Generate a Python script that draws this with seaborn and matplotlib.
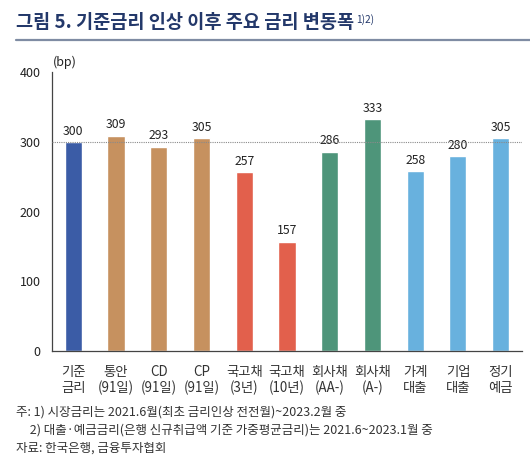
import numpy as np
import pandas as pd
import seaborn as sns
import matplotlib.pyplot as plt

# data
categories = ["기준\n금리", "통안\n(91일)", "CD\n(91일)", "CP\n(91일)", "국고채\n(3년)", "국고채\n(10년)",
              "회사채\n(AA-)", "회사채\n(A-)", "가계\n대출", "기업\n대출", "정기\n예금"]
changes = [300, 309, 293, 305, 257, 157, 286, 333, 258, 280, 305]
bar_colors = ["#3b5ca6", "#c6915f", "#c6915f", "#c6915f", "#e2604c", "#e2604c",
              "#4e957a", "#4e957a", "#68b1de", "#68b1de", "#68b1de"]
y_ticks = [0, 100, 200, 300, 400]

title = "그림 5. 기준금리 인상 이후 주요 금리 변동폭"
notes = [
    "주: 1) 시장금리는 2021.6월(최초 금리인상 전전월)~2023.2월 중",
    "     2) 대출·예금금리(은행 신규취급액 기준 가중평균금리)는 2021.6~2023.1월 중",
    "자료: 한국은행, 금융투자협회",
]

sns.set_theme(style="white")
plt.rcParams["font.family"] = ["Noto Sans CJK KR", "DejaVu Sans"]
plt.rcParams["axes.unicode_minus"] = False

df = pd.DataFrame({"cat": categories, "val": changes})

fig = plt.figure(figsize=(5.3, 4.71), dpi=100)
ax = fig.add_axes([0.098, 0.2548, 0.887, 0.5922])

sns.barplot(data=df, x="cat", y="val", hue="cat", palette=bar_colors,
            width=0.4, legend=False, saturation=1, ax=ax)

# reference line at 300bp
ax.axhline(300, color="#8a8a8a", linestyle=(0, (1, 1)), linewidth=0.8, zorder=5)

# value labels
for i, v in enumerate(changes):
    ax.text(i, v + 6, str(v), ha="center", va="bottom", fontsize=8.8, color="#222222")

ax.set_xlim(-0.5, len(categories) - 0.5)
ax.set_ylim(0, 400)
ax.set_yticks(y_ticks)
ax.set_xlabel("")
ax.set_ylabel("")
ax.tick_params(axis="y", direction="in", length=3, labelsize=9, colors="#222222", pad=8)
ax.tick_params(axis="x", length=0, labelsize=9.6, colors="#333333", pad=10)
ax.set_xticks(np.arange(-0.5, len(categories)), minor=True)
ax.tick_params(axis="x", which="minor", direction="in", length=3, color="#555555")
ax.tick_params(axis="y", which="major", color="#333333")
for lbl in ax.get_xticklabels():
    lbl.set_linespacing(1.15)

for s in ["top", "right"]:
    ax.spines[s].set_visible(False)
for s in ["left", "bottom"]:
    ax.spines[s].set_color("#444444")
    ax.spines[s].set_linewidth(0.9)

ax.text(-0.47, 405, "(bp)", fontsize=9, color="#222222", ha="left", va="bottom")

# title and rule
t = fig.text(0.030, 0.952, title, fontsize=13.4, fontweight="bold", color="#23386a",
             ha="left", va="center")
fig.canvas.draw()
bb = t.get_window_extent().transformed(fig.transFigure.inverted())
fig.text(bb.x1 + 0.004, 0.958, "1)2)", fontsize=7.3, color="#23386a", ha="left", va="center")
fig.add_artist(plt.Line2D([0.030, 1.0], [0.915, 0.915], color="#7f8ca3", linewidth=1.6,
                          transform=fig.transFigure))

# footnotes
for k, line in enumerate(notes):
    fig.text(0.030, 0.125 - k * 0.038, line, fontsize=9.0, color="#333333", ha="left", va="center")

fig.savefig("out.png", dpi=100)
